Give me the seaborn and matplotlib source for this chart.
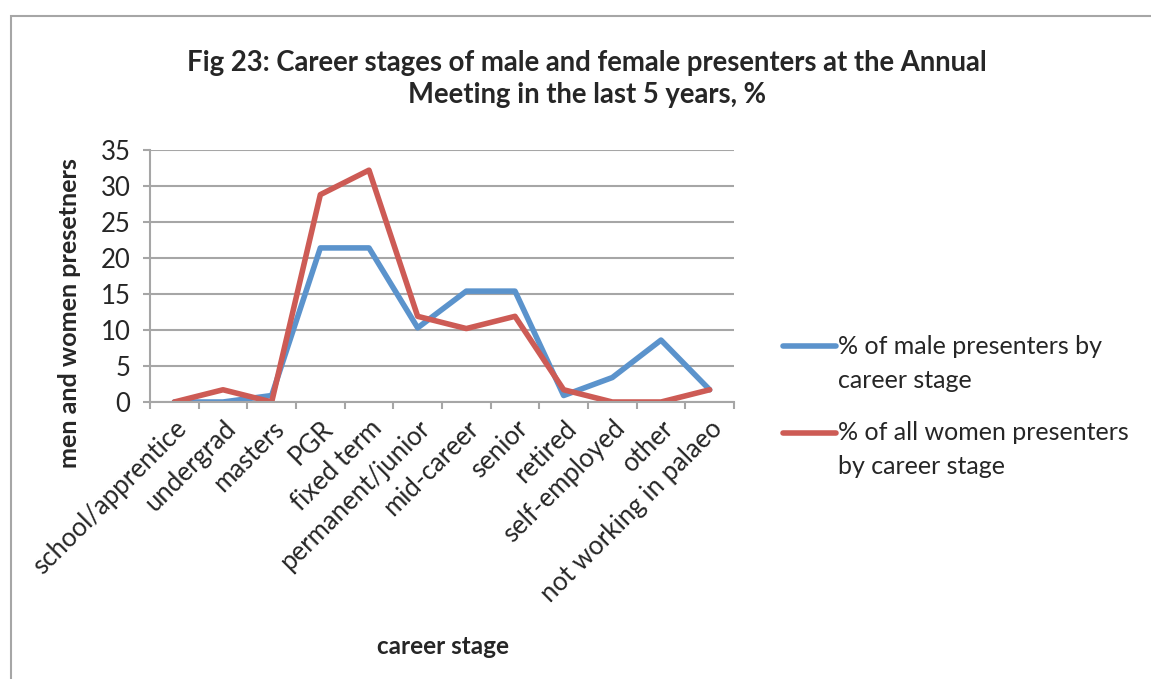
import matplotlib
matplotlib.use("Agg")
import matplotlib.pyplot as plt
from matplotlib.patches import Rectangle
from matplotlib.lines import Line2D
import seaborn as sns
import pandas as pd

categories = ["school/apprentice", "undergrad", "masters", "PGR", "fixed term",
              "permanent/junior", "mid-career", "senior", "retired",
              "self-employed", "other", "not working in palaeo"]
male = [0, 0, 0.9, 21.4, 21.4, 10.3, 15.4, 15.4, 0.9, 3.4, 8.6, 1.7]
female = [0, 1.7, 0, 28.8, 32.2, 11.9, 10.2, 11.9, 1.7, 0, 0, 1.7]
series_names = ["% of male presenters by\ncareer stage",
                "% of all women presenters\nby career stage"]
colors = ["#5B93CC", "#CD5B55"]
y_ticks = [0, 5, 10, 15, 20, 25, 30, 35]

sns.set_style("white")
plt.rcParams['font.family'] = ['Lato', 'DejaVu Sans']

df = pd.DataFrame({
    "x": list(range(len(categories))) * 2,
    "value": male + female,
    "series": [series_names[0]] * len(categories) + [series_names[1]] * len(categories),
})

W, H = 1151, 679
fig = plt.figure(figsize=(W / 100, H / 100), dpi=100)
ax = fig.add_axes([150/W, 1-402/H, (734-150)/W, (402-150)/H])

sns.lineplot(data=df, x="x", y="value", hue="series", palette=colors,
             linewidth=4.0, ax=ax, legend=False, sort=False)

ax.set_xlim(-0.5, len(categories) - 0.5)
ax.set_ylim(0, 35)
ax.set_yticks(y_ticks)
ax.set_yticklabels([str(t) for t in y_ticks], fontsize=18.5)
ax.yaxis.grid(True, color="#A6A6A6", linewidth=1.5)
ax.set_axisbelow(True)
for s in ["top", "right"]:
    ax.spines[s].set_visible(False)
for s in ["left", "bottom"]:
    ax.spines[s].set_color("#A6A6A6")
    ax.spines[s].set_linewidth(1.5)
ax.tick_params(axis="y", length=5, width=1.5, color="#A6A6A6", left=True, pad=9)

ax.set_xticks(range(len(categories)))
ax.set_xticklabels(categories, rotation=45, ha="right", rotation_mode="anchor", fontsize=18.5)
ax.set_xticks([i - 0.5 for i in range(len(categories) + 1)], minor=True)
ax.tick_params(axis="x", which="major", length=0, pad=10)
ax.tick_params(axis="x", which="minor", length=5, width=1.5, color="#A6A6A6", bottom=True)

ax.set_xlabel("career stage", fontsize=17.5, fontweight="bold")
ax.set_ylabel("men and women presetners", fontsize=18.2, fontweight="bold")
ax.xaxis.set_label_coords((443-150)/584, -(635-402)/252)
ax.yaxis.set_label_coords(-(150-70)/584, (402-313)/252)
ax.yaxis.label.set_verticalalignment("center")

fig.text(587/W, 1-79/H,
         "Fig 23: Career stages of male and female presenters at the Annual\nMeeting in the last 5 years, %",
         ha="center", va="center", fontsize=19.8, fontweight="bold", linespacing=1.3)

# legend (handle aligned with the first text line, as in the reference)
legend_rows = [(346, 380), (433, 466)]
for name, color, (y1, y2) in zip(series_names, colors, legend_rows):
    fig.add_artist(Line2D([783/W, 836/W], [1-y1/H, 1-y1/H], color=color, linewidth=4.0,
                          solid_capstyle="round", transform=fig.transFigure))
    for line, yy in zip(name.split("\n"), (y1, y2)):
        fig.text(838/W, 1-yy/H, line, ha="left", va="center", fontsize=18)

fig.patches.append(Rectangle((10.5/W, -0.1), 1.2, 1 - 15.5/H + 0.1,
                             transform=fig.transFigure, fill=False,
                             edgecolor="#A6A6A6", linewidth=1.5))

fig.savefig("out.png", dpi=100)
